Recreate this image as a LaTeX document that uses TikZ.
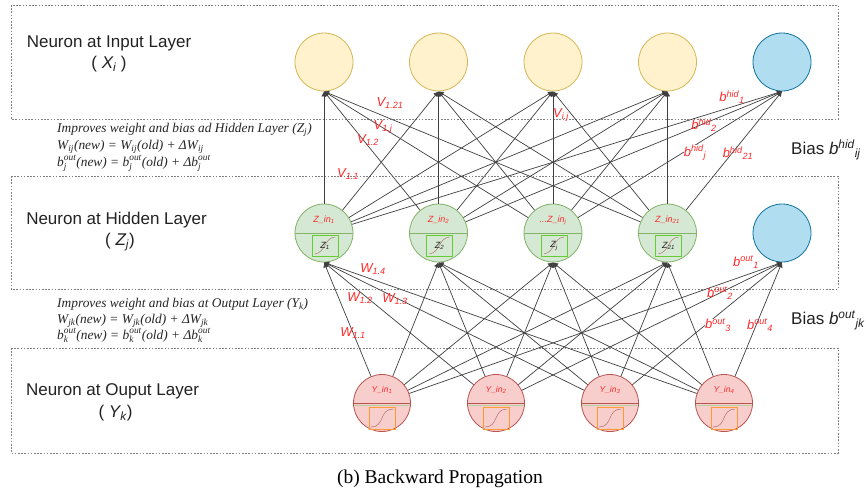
\documentclass[tikz,border=0pt]{standalone}
\usepackage{amsmath}
\usepackage{fontspec}
\setmainfont{Liberation Sans}
\newfontfamily\capserif{Liberation Serif}
\usetikzlibrary{arrows.meta}
\newcommand\fsup[2]{$^{\textit{#1}}_{\textit{#2}}$}
\newcommand\fsub[1]{$_{\textit{#1}}$}
\definecolor{yfill}{HTML}{FFF2CC}
\definecolor{ydraw}{HTML}{D6B656}
\definecolor{bfill}{HTML}{B1DDF0}
\definecolor{bdraw}{HTML}{10739E}
\definecolor{gfill}{HTML}{D5E8D4}
\definecolor{gdraw}{HTML}{82B366}
\definecolor{rfill}{HTML}{F8CECC}
\definecolor{rdraw}{HTML}{B85450}
\definecolor{labred}{HTML}{FF2A2A}
\definecolor{sqgreen}{HTML}{66CC33}
\definecolor{sqorange}{HTML}{FF9933}
\definecolor{sigcol}{HTML}{B0706A}
\definecolor{txt}{HTML}{222222}
\begin{document}
\begin{tikzpicture}[x=1pt,y=-1pt,
  layerbox/.style={draw=black!50,line width=0.6pt,dash pattern=on 1.6pt off 1.6pt},
  neuron/.style={circle,minimum size=58pt,inner sep=0pt,line width=0.8pt},
  inp/.style={neuron,fill=yfill,draw=ydraw},
  biasn/.style={neuron,fill=bfill,draw=bdraw},
  hid/.style={neuron,fill=gfill,draw=gdraw},
  outp/.style={neuron,minimum size=57pt,fill=rfill,draw=rdraw},
  edge/.style={draw=black!75,line width=0.7pt,-{Latex[length=5pt,width=5.5pt]}},
  wlab/.style={text=labred,inner sep=0pt,font=\itshape\fontsize{13}{15}\selectfont},
  nlab/.style={text=labred,inner sep=0pt,font=\itshape\fontsize{9}{10}\selectfont},
  zlab/.style={text=txt,inner sep=0pt,font=\itshape\fontsize{9}{10}\selectfont},
  layerlab/.style={text=txt,inner sep=0pt,font=\fontsize{17}{20}\selectfont},
  formula/.style={text=black!85,inner sep=0pt,anchor=base west,font=\capserif\itshape\fontsize{13.4}{16}\selectfont},
  sig/.style={draw=sigcol,line width=0.5pt}
]
\useasboundingbox (0,0) rectangle (866,496);
\fill[white] (0,0) rectangle (866,496);

% layer boxes
\draw[layerbox] (11,5) rectangle (838,119);
\draw[layerbox] (11,176) rectangle (838,289);
\draw[layerbox] (11,348) rectangle (838,453);

% neurons
\foreach \n/\x in {1/324,2/438.5,3/553,4/667.5}{
  \node[inp] (i\n) at (\x,62) {};
  \node[hid] (h\n) at (\x,233) {};
}
\node[biasn] (bh) at (782,62) {};
\node[biasn] (bo) at (782,233) {};
\foreach \n/\x in {1/382,2/496,3/610,4/724}{
  \node[outp] (o\n) at (\x,403) {};
}

% hidden internals
\foreach \n/\x/\lab/\zl in {1/324/{Z\_in\textsubscript{1}}/{Z\textsubscript{1}},
                            2/438.5/{Z\_in\textsubscript{2}}/{Z\textsubscript{2}},
                            3/553/{...Z\_in\textsubscript{j}}/{Z\textsubscript{j}},
                            4/667.5/{Z\_in\textsubscript{21}}/{Z\textsubscript{21}}}{
  \draw[gdraw,line width=0.8pt] (h\n.west) -- (h\n.east);
  \node[nlab] at (\x,220) {\lab};
  \draw[sqgreen,line width=0.9pt] (\x-12,235) rectangle (\x+14,256);
  \draw[sig] (\x-9,254) .. controls (\x+2,252) and (\x,238) .. (\x+11,237);
  \node[zlab] at (\x+1,246) {\zl};
}

% output internals
\foreach \n/\x in {1/382,2/496,3/610,4/724}{
  \draw[rdraw,line width=0.8pt] (o\n.west) -- (o\n.east);
  \draw[gdraw!60,line width=0.8pt] (\x-28,405) -- (\x+28,405);
  \node[nlab,font=\itshape\fontsize{8.5}{10}\selectfont] at (\x,390) {Y\_in\textsubscript{\n}};
  \draw[sqorange,line width=0.9pt] (\x-13,407) rectangle (\x+13,429);
  \draw[sig] (\x-11,427) .. controls (\x+3,427) and (\x-3,409) .. (\x+11,409);
}

% connectors: hidden -> input / bias
\foreach \j in {1,...,4}{
  \foreach \i in {1,...,4}{
    \draw[edge] (h\j) -- (i\i.south);
  }
  \draw[edge] (h\j) -- (bh.south);
}
% connectors: output -> hidden / bias
\foreach \k in {1,...,4}{
  \foreach \j in {1,...,4}{
    \draw[edge] (o\k) -- (h\j.south);
  }
  \draw[edge] (o\k) -- (bo.south);
}

% weight labels
\node[wlab] (lv121) at (390,103) {V\textsubscript{1.21}};
\node[wlab] (lv1j) at (383,127) {V\textsubscript{1.j}};
\node[wlab] (lv12) at (368,140) {V\textsubscript{1.2}};
\node[wlab] (lv11) at (348,174) {V\textsubscript{1.1}};
\node[wlab] (lvij) at (561,115) {V\textsubscript{i.j}};
\node[wlab] (lbh1) at (732,97) {b\textsuperscript{hid}\textsubscript{1}};
\node[wlab] (lbh2) at (704,125) {b\textsuperscript{hid}\textsubscript{2}};
\node[wlab,fill=white] (lbhj) at (695,153) {b\textsuperscript{hid}\textsubscript{j}};
\node[wlab] (lbh21) at (738,153) {b\textsuperscript{hid}\textsubscript{21}};
\node[wlab] (lw14) at (373,269) {W\textsubscript{1.4}};
\node[wlab] (lw12) at (360,298) {W\textsubscript{1.2}};
\node[wlab] (lw13) at (395,299) {W\textsubscript{1.3}};
\node[wlab] (lw11) at (353,333) {W\textsubscript{1.1}};
\node[wlab] (lbo1) at (746,262) {b\textsuperscript{out}\textsubscript{1}};
\node[wlab] (lbo2) at (720,293) {b\textsuperscript{out}\textsubscript{2}};
\node[wlab,fill=white] (lbo3) at (718,325) {b\textsuperscript{out}\textsubscript{3}};
\node[wlab] (lbo4) at (760,325) {b\textsuperscript{out}\textsubscript{4}};

% bias labels
\node[layerlab,anchor=west] (biash) at (791,150) {Bias \textit{b\textsuperscript{hid}\textsubscript{ij}}};
\node[layerlab,anchor=west] (biaso) at (791,320) {Bias \textit{b\textsuperscript{out}\textsubscript{jk}}};

% layer labels
\node[layerlab] (tin) at (109,43) {Neuron at Input Layer};
\node[layerlab] (tinx) at (109,64) {( \textit{X\textsubscript{i}} )};
\node[layerlab] (thid) at (116.5,220) {Neuron at Hidden Layer};
\node[layerlab] (thidz) at (120,242) {( \textit{Z\textsubscript{j}})};
\node[layerlab] (tout) at (112.5,391) {Neuron at Ouput Layer};
\node[layerlab] (touty) at (115.5,413) {( \textit{Y\textsubscript{k}})};

% formulas
\node[formula] (fh1) at (57,132) {Improves weight and bias ad Hidden Layer (Z\fsub{j})};
\node[formula] (fh2) at (57,149) {W\fsub{ij}(new) = W\fsub{ij}(old) + ΔW\fsub{ij}};
\node[formula] (fh3) at (57,166) {b\fsup{out}{j}(new) = b\fsup{out}{j}(old) + Δb\fsup{out}{j}};
\node[formula] (fo1) at (57,307) {Improves weight and bias at Output Layer (Y\fsub{k})};
\node[formula] (fo2) at (57,323) {W\fsub{jk}(new) = W\fsub{jk}(old) + ΔW\fsub{jk}};
\node[formula] (fo3) at (57,339) {b\fsup{out}{k}(new) = b\fsup{out}{k}(old) + Δb\fsup{out}{k}};

% caption
\node[inner sep=0pt,font=\capserif\fontsize{19.5}{22}\selectfont] (cap) at (440,479) {(b) Backward Propagation};
\end{tikzpicture}
\end{document}
